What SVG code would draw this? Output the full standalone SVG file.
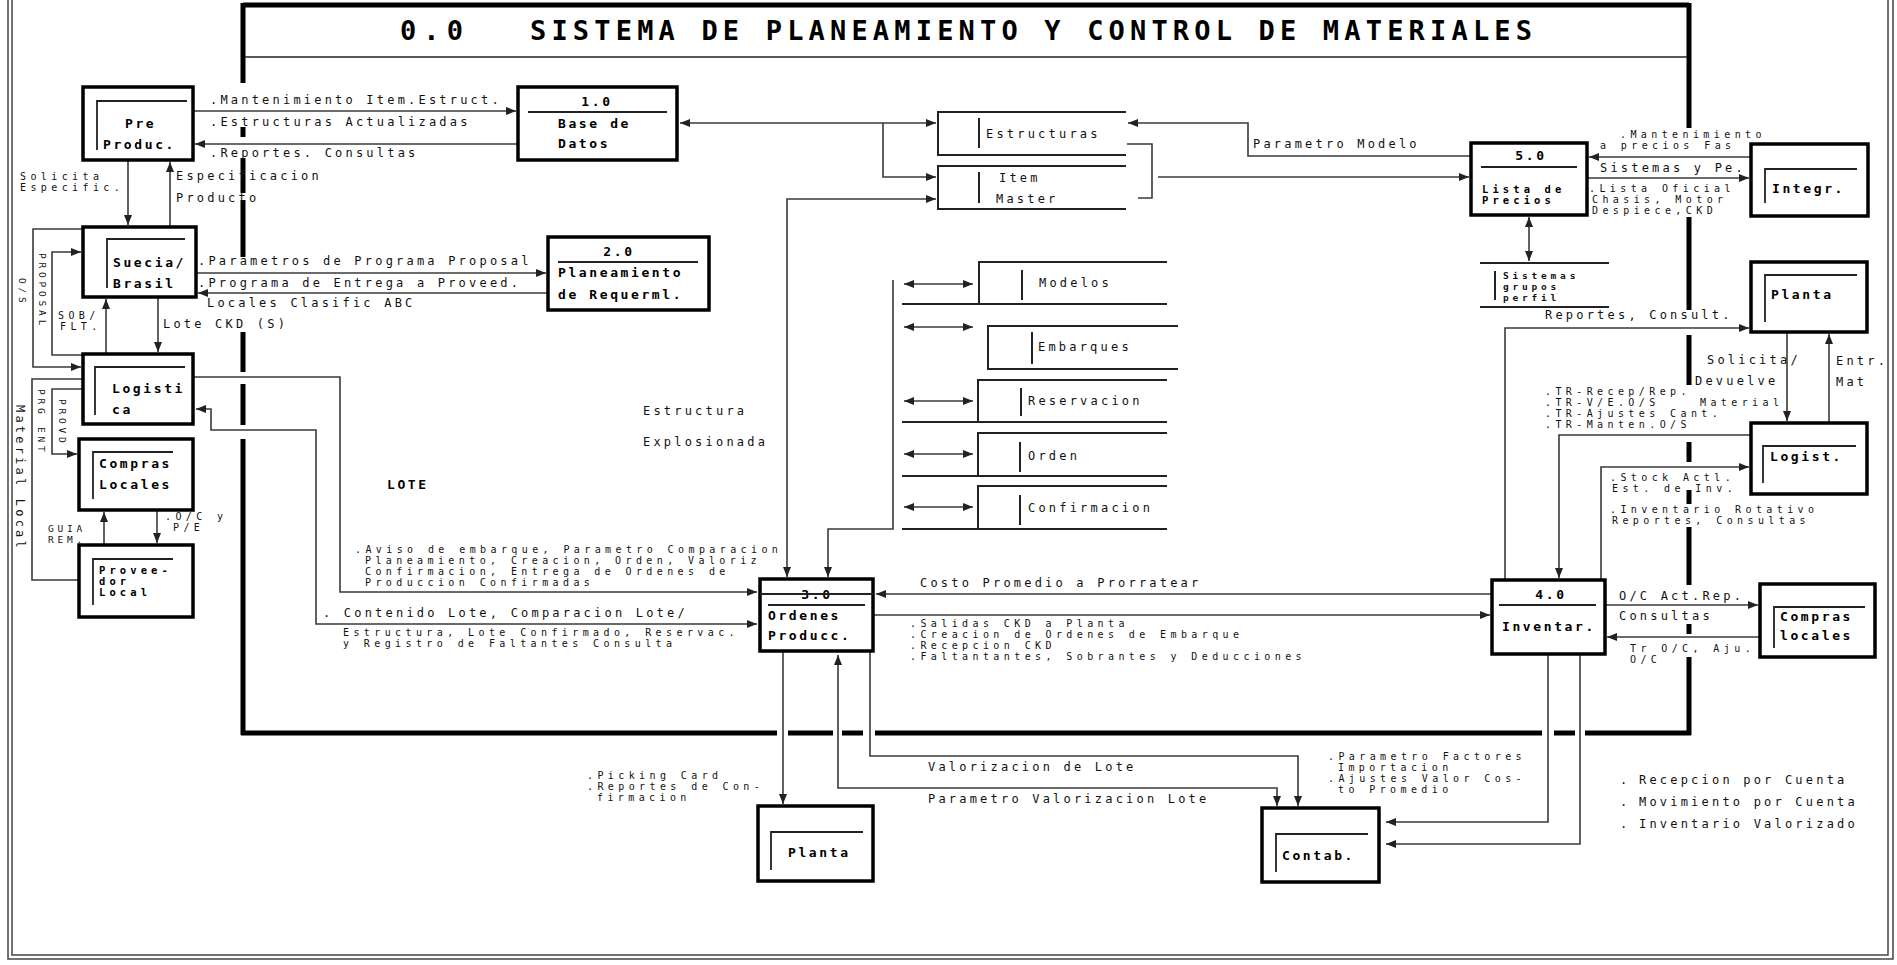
<svg xmlns="http://www.w3.org/2000/svg" width="1897" height="965" viewBox="0 0 1897 965">
<style>
.t{font-family:"DejaVu Sans Mono","Liberation Mono",monospace;font-size:12px;letter-spacing:3.2px;fill:#111}
.n{font-family:"DejaVu Sans Mono","Liberation Mono",monospace;font-size:10px;letter-spacing:4.4px;fill:#111}
.s{font-family:"DejaVu Sans Mono","Liberation Mono",monospace;font-size:9.5px;letter-spacing:3.8px;fill:#111}
.b{font-family:"DejaVu Sans Mono","Liberation Mono",monospace;font-size:13px;font-weight:bold;letter-spacing:2.6px;fill:#000}
.bn{font-family:"DejaVu Sans Mono","Liberation Mono",monospace;font-size:10.5px;font-weight:bold;letter-spacing:4.1px;fill:#000}
.ttl{font-family:"DejaVu Sans Mono","Liberation Mono",monospace;font-size:27px;font-weight:bold;fill:#000}
.box{fill:#fff;stroke:#000;stroke-width:3.5}
.in{fill:none;stroke:#222;stroke-width:1.8}
.ds{fill:none;stroke:#222;stroke-width:2}
.c{fill:none;stroke:#3a3a3a;stroke-width:1.6}
.fr{fill:none;stroke:#000;stroke-width:5}
.ob{fill:none;stroke:#444;stroke-width:1.5}
</style>
<defs>
<marker id="a" markerWidth="10" markerHeight="8" refX="10" refY="4" orient="auto-start-reverse" markerUnits="userSpaceOnUse">
<path d="M0,0 L10,4 L0,8 z" fill="#222"/>
</marker>
</defs>
<rect width="1897" height="965" fill="#fff"/>
<g id="outer-frame">
<rect class="ob" x="8" y="-10" width="1885" height="969"/>
<rect class="ob" x="12" y="-10" width="1876" height="965"/>
</g>
<g id="process-0">
<path class="fr" d="M243,5 H1689"/>
<path class="fr" d="M243,3 V83 M243,127 V137 M243,158 V193 M243,200 V257 M243,332 V372 M243,384 V425 M243,439 V735"/>
<path class="fr" d="M1689,3 V128 M1689,217 V310 M1689,335 V385 M1689,442 V462 M1689,490 V504 M1689,527 V585 M1689,624 V634 M1689,657 V735"/>
<path class="fr" d="M241,733 H777 M788,733 H833 M842,733 H863 M875,733 H1542 M1554,733 H1575 M1585,733 H1691"/>
<path d="M245,57 H1687" stroke="#222" stroke-width="1.6"/>
<text class="ttl" x="400" y="40" textLength="63" lengthAdjust="spacing">0.0</text>
<text class="ttl" x="530" y="40" textLength="1002" lengthAdjust="spacing">SISTEMA DE PLANEAMIENTO Y CONTROL DE MATERIALES</text>
</g>
<g id="connectors">
<path class="c" d="M193,111 H516" marker-end="url(#a)"/>
<path class="c" d="M518,144 H195" marker-end="url(#a)"/>
<path class="c" d="M128,160 V225" marker-end="url(#a)"/>
<path class="c" d="M170,227 V162" marker-end="url(#a)"/>
<path class="c" d="M196,273 H546" marker-end="url(#a)"/>
<path class="c" d="M683,293 H198" marker-end="url(#a)"/>
<path class="c" d="M83,229 H33 V367 H81" marker-end="url(#a)"/>
<path class="c" d="M83,355 H52 V252 H81" marker-end="url(#a)"/>
<path class="c" d="M106,354 V299" marker-end="url(#a)"/>
<path class="c" d="M158,297 V352" marker-end="url(#a)"/>
<path class="c" d="M83,389 H52 V454 H77" marker-end="url(#a)"/>
<path class="c" d="M83,379 H32 V580 H79"/>
<path class="c" d="M104,545 V512" marker-end="url(#a)"/>
<path class="c" d="M157,510 V543" marker-end="url(#a)"/>
<path class="c" d="M680,123 H936" marker-start="url(#a)" marker-end="url(#a)"/>
<path class="c" d="M883,123 V177 H936" marker-end="url(#a)"/>
<path class="c" d="M936,199 H787 V577" marker-start="url(#a)" marker-end="url(#a)"/>
<path class="c" d="M904,284 H973" marker-start="url(#a)" marker-end="url(#a)"/>
<path class="c" d="M904,327 H973" marker-start="url(#a)" marker-end="url(#a)"/>
<path class="c" d="M904,401 H973" marker-start="url(#a)" marker-end="url(#a)"/>
<path class="c" d="M904,454 H973" marker-start="url(#a)" marker-end="url(#a)"/>
<path class="c" d="M904,507 H973" marker-start="url(#a)" marker-end="url(#a)"/>
<path class="c" d="M893,280 V529 H828 V577" marker-end="url(#a)"/>
<path class="c" d="M1127,144 H1152 V198 H1138"/>
<path class="c" d="M1158,177 H1469" marker-end="url(#a)"/>
<path class="c" d="M1471,156 H1248 V123 H1128" marker-end="url(#a)"/>
<path class="c" d="M1529,217 V261" marker-start="url(#a)" marker-end="url(#a)"/>
<path class="c" d="M1751,157 H1589" marker-end="url(#a)"/>
<path class="c" d="M1587,178 H1749" marker-end="url(#a)"/>
<path class="c" d="M193,377 H340 V592 H757" marker-end="url(#a)"/>
<path class="c" d="M757,624 H316 V430 H211 V409 H196" marker-start="url(#a)" marker-end="url(#a)"/>
<path class="c" d="M1492,594 H876" marker-end="url(#a)"/>
<path class="c" d="M873,615 H1490" marker-end="url(#a)"/>
<path class="c" d="M783,651 V804" marker-end="url(#a)"/>
<path class="c" d="M870,651 V756 H1298 V806" marker-end="url(#a)"/>
<path class="c" d="M838,655 V788 H1277 V806" marker-start="url(#a)" marker-end="url(#a)"/>
<path class="c" d="M1548,654 V822 H1386" marker-end="url(#a)"/>
<path class="c" d="M1580,654 V844 H1386" marker-end="url(#a)"/>
<path class="c" d="M1505,580 V328 H1749" marker-end="url(#a)"/>
<path class="c" d="M1751,435 H1559 V578" marker-end="url(#a)"/>
<path class="c" d="M1601,580 V467 H1749" marker-end="url(#a)"/>
<path class="c" d="M1787,332 V421" marker-end="url(#a)"/>
<path class="c" d="M1829,423 V334" marker-end="url(#a)"/>
<path class="c" d="M1605,605 H1758" marker-end="url(#a)"/>
<path class="c" d="M1760,637 H1607" marker-end="url(#a)"/>
</g>
<g id="node-preproduc">
<rect class="box" x="83" y="87" width="110" height="73"/>
<path class="in" d="M187,101 H97 V150"/>
<text class="b" x="125" y="128">Pre</text>
<text class="b" x="103" y="149">Produc.</text>
</g>
<g id="node-1-0">
<rect class="box" x="518" y="87" width="159" height="73"/>
<path class="in" d="M528,112 H667"/>
<text class="b" x="597" y="106" text-anchor="middle">1.0</text>
<text class="b" x="558" y="128">Base de</text>
<text class="b" x="558" y="148">Datos</text>
</g>
<g id="node-2-0">
<rect class="box" x="548" y="237" width="161" height="73"/>
<path class="in" d="M558,262 H698"/>
<text class="b" x="619" y="256" text-anchor="middle">2.0</text>
<text class="b" x="558" y="277">Planeamiento</text>
<text class="b" x="558" y="299">de Requerml.</text>
</g>
<g id="node-suecia">
<rect class="box" x="83" y="227" width="113" height="70"/>
<path class="in" d="M185,239 H107 V288"/>
<text class="b" x="113" y="267">Suecia/</text>
<text class="b" x="113" y="288">Brasil</text>
</g>
<g id="node-logistica">
<rect class="box" x="83" y="354" width="110" height="70"/>
<path class="in" d="M185,367 H95 V415"/>
<text class="b" x="112" y="393">Logisti</text>
<text class="b" x="112" y="414">ca</text>
</g>
<g id="node-compras-locales">
<rect class="box" x="79" y="439" width="114" height="71"/>
<path class="in" d="M173,452 H93 V499"/>
<text class="b" x="99" y="468">Compras</text>
<text class="b" x="99" y="489">Locales</text>
</g>
<g id="node-proveedor">
<rect class="box" x="79" y="545" width="114" height="72"/>
<path class="in" d="M173,559 H93 V605"/>
<text class="bn" x="99" y="574">Provee-</text>
<text class="bn" x="99" y="585">dor</text>
<text class="bn" x="99" y="596">Local</text>
</g>
<g id="node-3-0">
<rect class="box" x="760" y="579" width="113" height="72"/>
<path class="in" d="M768,605 H865"/>
<text class="b" x="817" y="599" text-anchor="middle">3.0</text>
<path d="M760,594 H873" stroke="#222" stroke-width="2"/>
<text class="b" x="768" y="620">Ordenes</text>
<text class="b" x="768" y="640">Producc.</text>
</g>
<g id="node-4-0">
<rect class="box" x="1492" y="580" width="113" height="74"/>
<path class="in" d="M1499,605 H1596"/>
<text class="b" x="1551" y="599" text-anchor="middle">4.0</text>
<text class="b" x="1502" y="631">Inventar.</text>
</g>
<g id="node-5-0">
<rect class="box" x="1471" y="143" width="116" height="72"/>
<path class="in" d="M1481,167 H1577"/>
<text class="b" x="1531" y="160" text-anchor="middle">5.0</text>
<text class="bn" x="1482" y="193">Lista de</text>
<text class="bn" x="1482" y="204">Precios</text>
</g>
<g id="node-integr">
<rect class="box" x="1751" y="144" width="117" height="72"/>
<path class="in" d="M1857,169 H1765 V203"/>
<text class="b" x="1772" y="193">Integr.</text>
</g>
<g id="node-planta-r">
<rect class="box" x="1751" y="262" width="116" height="70"/>
<path class="in" d="M1857,275 H1765 V322"/>
<text class="b" x="1771" y="299">Planta</text>
</g>
<g id="node-logist">
<rect class="box" x="1751" y="423" width="116" height="71"/>
<path class="in" d="M1856,446 H1763 V483"/>
<text class="b" x="1770" y="461">Logist.</text>
</g>
<g id="node-compras-r">
<rect class="box" x="1760" y="584" width="115" height="73"/>
<path class="in" d="M1865,607 H1774 V648"/>
<text class="b" x="1780" y="621">Compras</text>
<text class="b" x="1780" y="640">locales</text>
</g>
<g id="node-planta-b">
<rect class="box" x="758" y="806" width="115" height="75"/>
<path class="in" d="M863,832 H771 V870"/>
<text class="b" x="788" y="857">Planta</text>
</g>
<g id="node-contab">
<rect class="box" x="1262" y="808" width="117" height="74"/>
<path class="in" d="M1368,834 H1276 V872"/>
<text class="b" x="1282" y="860">Contab.</text>
</g>
<g id="ds-estructuras">
<path class="ds" d="M1126,112 H938 V155 H1126 M979,118 V148"/>
<text class="t" x="986" y="138">Estructuras</text>
</g>
<g id="ds-itemmaster">
<path class="ds" d="M1126,166 H938 V209 H1126 M979,172 V203"/>
<text class="t" x="999" y="182">Item</text>
<text class="t" x="996" y="203">Master</text>
</g>
<g id="ds-modelos">
<path class="ds" d="M1167,262 H979 V304 M902,304 H1167 M1022,270 V300"/>
<text class="t" x="1039" y="287">Modelos</text>
</g>
<g id="ds-embarques">
<path class="ds" d="M1178,326 H988 V369 H1178 M1032,332 V364"/>
<text class="t" x="1038" y="351">Embarques</text>
</g>
<g id="ds-reservacion">
<path class="ds" d="M1167,380 H978 V422 M902,422 H1167 M1021,388 V416"/>
<text class="t" x="1028" y="405">Reservacion</text>
</g>
<g id="ds-orden">
<path class="ds" d="M1167,433 H978 V476 M902,476 H1167 M1020,442 V472"/>
<text class="t" x="1028" y="460">Orden</text>
</g>
<g id="ds-confirmacion">
<path class="ds" d="M1167,486 H978 V529 M902,529 H1167 M1020,495 V525"/>
<text class="t" x="1028" y="512">Confirmacion</text>
</g>
<g id="ds-sistemas">
<path class="ds" d="M1480,263 H1609 M1480,307 H1609 M1495,271 V300"/>
<text class="s" x="1503" y="279" font-weight="bold">Sistemas</text>
<text class="s" x="1503" y="290" font-weight="bold">grupos</text>
<text class="s" x="1503" y="301" font-weight="bold">perfil</text>
</g>
<g id="flow-labels">
<text class="t" x="210" y="104">.Mantenimiento Item.Estruct.</text>
<text class="t" x="210" y="126">.Estructuras Actualizadas</text>
<text class="t" x="210" y="157">.Reportes. Consultas</text>
<text class="n" x="20" y="180">Solicita</text>
<text class="n" x="20" y="191">Especific.</text>
<text class="t" x="176" y="180">Especificacion</text>
<text class="t" x="176" y="202">Producto</text>
<text class="t" x="198" y="265">.Parametros de Programa Proposal</text>
<text class="t" x="198" y="287">.Programa de Entrega a Proveed.</text>
<text class="t" x="207" y="307">Locales Clasific ABC</text>
<text class="t" x="163" y="328">Lote CKD (S)</text>
<text class="n" x="58" y="319">SOB/</text>
<text class="n" x="60" y="330">FLT.</text>
<text class="s" x="19" y="278" transform="rotate(90 19 278)">O/S</text>
<text class="s" x="39" y="253" transform="rotate(90 39 253)" letter-spacing="6">PROPOSAL</text>
<text class="t" x="16" y="405" transform="rotate(90 16 405)">Material Local</text>
<text class="s" x="38" y="389" transform="rotate(90 38 389)">PRG ENT</text>
<text class="s" x="59" y="399" transform="rotate(90 59 399)">PROVD</text>
<text class="s" x="48" y="532">GUIA</text>
<text class="s" x="48" y="543">REM.</text>
<text class="n" x="165" y="520">.O/C y</text>
<text class="n" x="173" y="531">P/E</text>
<text class="b" x="387" y="489">LOTE</text>
<text class="t" x="643" y="415">Estructura</text>
<text class="t" x="643" y="446">Explosionada</text>
<text class="n" x="355" y="553">.Aviso de embarque, Parametro Comparacion</text>
<text class="n" x="365" y="564">Planeamiento, Creacion, Orden, Valoriz</text>
<text class="n" x="365" y="575">Confirmacion, Entrega de Ordenes de</text>
<text class="n" x="365" y="586">Produccion Confirmadas</text>
<text class="t" x="323" y="617">. Contenido Lote, Comparacion Lote/</text>
<text class="n" x="343" y="636">Estructura, Lote Confirmado, Reservac.</text>
<text class="n" x="343" y="647">y Registro de Faltantes Consulta</text>
<text class="t" x="920" y="587">Costo Promedio a Prorratear</text>
<text class="n" x="910" y="627">.Salidas CKD a Planta</text>
<text class="n" x="910" y="638">.Creacion de Ordenes de Embarque</text>
<text class="n" x="910" y="649">.Recepcion CKD</text>
<text class="n" x="910" y="660">.Faltantantes, Sobrantes y Deducciones</text>
<text class="n" x="587" y="779">.Picking Card</text>
<text class="n" x="587" y="790">.Reportes de Con-</text>
<text class="n" x="597" y="801">firmacion</text>
<text class="t" x="928" y="771">Valorizacion de Lote</text>
<text class="t" x="928" y="803">Parametro Valorizacion Lote</text>
<text class="n" x="1328" y="760">.Parametro Factores</text>
<text class="n" x="1338" y="771">Importacion</text>
<text class="n" x="1328" y="782">.Ajustes Valor Cos-</text>
<text class="n" x="1338" y="793">to Promedio</text>
<text class="t" x="1620" y="784">.</text>
<text class="t" x="1639" y="784">Recepcion por Cuenta</text>
<text class="t" x="1620" y="806">.</text>
<text class="t" x="1639" y="806">Movimiento por Cuenta</text>
<text class="t" x="1620" y="828">.</text>
<text class="t" x="1639" y="828">Inventario Valorizado</text>
<text class="t" x="1253" y="148">Parametro Modelo</text>
<text class="n" x="1620" y="138">.Mantenimiento</text>
<text class="n" x="1600" y="149">a precios Fas</text>
<text class="t" x="1600" y="172">Sistemas y Pe.</text>
<text class="n" x="1589" y="192">.Lista Oficial</text>
<text class="n" x="1592" y="203">Chasis, Motor</text>
<text class="n" x="1592" y="214">Despiece,CKD</text>
<text class="t" x="1545" y="319">Reportes, Consult.</text>
<text class="t" x="1707" y="364">Solicita/</text>
<text class="t" x="1695" y="385">Devuelve</text>
<text class="n" x="1700" y="406">Material</text>
<text class="t" x="1836" y="365">Entr.</text>
<text class="t" x="1836" y="386">Mat</text>
<text class="n" x="1545" y="395">.TR-Recep/Rep.</text>
<text class="n" x="1545" y="406">.TR-V/E.O/S</text>
<text class="n" x="1545" y="417">.TR-Ajustes Cant.</text>
<text class="n" x="1545" y="428">.TR-Manten.O/S</text>
<text class="n" x="1610" y="481">.Stock Actl.</text>
<text class="n" x="1612" y="492">Est. de Inv.</text>
<text class="n" x="1610" y="513">.Inventario Rotativo</text>
<text class="n" x="1612" y="524">Reportes, Consultas</text>
<text class="t" x="1619" y="600">O/C Act.Rep.</text>
<text class="t" x="1619" y="620">Consultas</text>
<text class="n" x="1630" y="652">Tr O/C, Aju.</text>
<text class="n" x="1630" y="663">O/C</text>
</g>
</svg>
